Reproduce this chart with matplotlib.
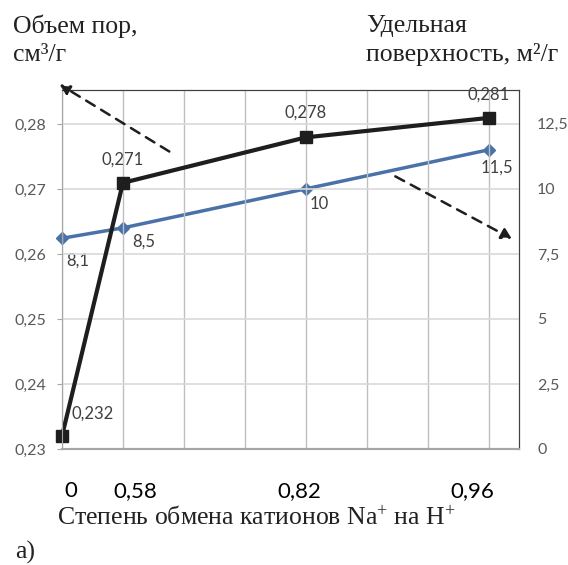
import matplotlib
matplotlib.use('Agg')
import matplotlib.pyplot as plt
import matplotlib.transforms as mtransforms

# категории (степень обмена) и их позиции на оси
x_labels = ['0', '0,58', '0,82', '0,96']
x_pos = [0, 1, 4, 7]
# объем пор, см3/г
pore_volume = [0.232, 0.271, 0.278, 0.281]
pore_labels = ['0,232', '0,271', '0,278', '0,281']
# удельная поверхность, м2/г
surface = [8.1, 8.5, 10, 11.5]
surface_labels = ['8,1', '8,5', '10', '11,5']

left_ticks = [0.23, 0.24, 0.25, 0.26, 0.27, 0.28]
left_ticklabels = ['0,23', '0,24', '0,25', '0,26', '0,27', '0,28']
right_ticks = [0, 2.5, 5, 7.5, 10, 12.5]
right_ticklabels = ['0', '2,5', '5', '7,5', '10', '12,5']

sans = 'Lato'
serif = 'Liberation Serif'
gray_txt = '#595959'
plt.rcParams['mathtext.fontset'] = 'custom'
plt.rcParams['mathtext.rm'] = serif
plt.rcParams['mathtext.it'] = serif

fig = plt.figure(figsize=(5.68, 5.65), dpi=100)
ax = fig.add_axes([62/568, 1 - 449/565, 457/568, 359/565])
ax2 = ax.twinx()
ax.set_zorder(ax2.get_zorder() + 1)
ax.patch.set_visible(False)

ax.set_xlim(0, 7.5)
ax.set_ylim(0.23, 0.2853)
ax2.set_ylim(0, 13.8)

# сетка
ax.set_xticks(range(8))
ax.set_yticks(left_ticks)
ax.grid(axis='x', color='#bfbfbf', lw=1)
ax.grid(axis='y', color='#d9d9d9', lw=1.2)
ax.set_axisbelow(True)
ax.tick_params(axis='x', length=0, labelbottom=False)
ax.set_yticklabels(left_ticklabels, fontsize=11.5, color=gray_txt, family=sans)
ax.tick_params(axis='y', length=3.6, color='#a6a6a6', pad=8)
ax2.set_yticks(right_ticks)
ax2.set_yticklabels(right_ticklabels, fontsize=11.5, color=gray_txt, family=sans)
ax2.tick_params(axis='y', length=0, pad=13)

for a in (ax, ax2):
    a.spines['left'].set_color('#a6a6a6')
    a.spines['bottom'].set_color('#a6a6a6')
    a.spines['bottom'].set_linewidth(1.5)
    a.spines['top'].set_color('#404040')
    a.spines['right'].set_color('#404040')
    a.spines['top'].set_linewidth(0.8)
    a.spines['right'].set_linewidth(0.8)

# серии
ax2.plot(x_pos, surface, color='#4a72a8', lw=2.5, marker='D', ms=6,
         clip_on=False)
ax.plot(x_pos, pore_volume, color='#1e1e1e', lw=3, marker='s', ms=9,
        clip_on=False)

pore_off = [(22, 16), (0, 16.5), (0, 18), (0, 16.5)]
for x, y, t, off in zip(x_pos, pore_volume, pore_labels, pore_off):
    ax.annotate(t, (x, y), xytext=off, textcoords='offset points',
                ha='center', va='center', fontsize=12, color='#404040',
                family=sans, annotation_clip=False)
surf_off = [(11.5, -16), (15, -10), (9.5, -11), (6, -13)]
for x, y, t, off in zip(x_pos, surface, surface_labels, surf_off):
    ax2.annotate(t, (x, y), xytext=off, textcoords='offset points',
                 ha='center', va='center', fontsize=12, color='#404040',
                 family=sans, annotation_clip=False)

# стрелки к осям
ax.annotate('', xy=(-0.08, 0.2864), xytext=(1.8, 0.2756),
            arrowprops=dict(arrowstyle='-|>,head_length=0.6,head_width=0.3',
                            color='#1e1e1e', lw=1.8, linestyle=(0, (4, 3))),
            annotation_clip=False)
ax.annotate('', xy=(7.42, 0.2622), xytext=(5.43, 0.2722),
            arrowprops=dict(arrowstyle='-|>,head_length=0.6,head_width=0.35',
                            color='#1e1e1e', lw=1.8, linestyle=(0, (4, 3))),
            annotation_clip=False)

# подписи по оси x (вручную, как в оригинале)
label_x = [0.15, 1.21, 3.89, 6.74]
trans = mtransforms.blended_transform_factory(ax.transData, fig.transFigure)
for x, t in zip(label_x, x_labels):
    ax.text(x, 1 - 491/565, t, transform=trans, ha='center', va='center',
            fontsize=16, color='black', family=sans)

tkw = dict(fontsize=18.5, family=serif, color='#222222', va='center')
fig.text(57/568, 1 - 518/565, 'Степень обмена катионов Na$^{+}$ на H$^{+}$',
         ha='left', **tkw)
fig.text(15/568, 1 - 552/565, 'а)', ha='left', **tkw)

fig.text(13/568, 1 - 26/565, 'Объем пор,', ha='left', **tkw)
fig.text(13/568, 1 - 55/565, 'см³/г', ha='left', **tkw)
fig.text(366/568, 1 - 26/565, 'Удельная', ha='left', **tkw)
fig.text(366/568, 1 - 55/565, 'поверхность, м²/г', ha='left', **tkw)

fig.savefig('out.png', dpi=100)
